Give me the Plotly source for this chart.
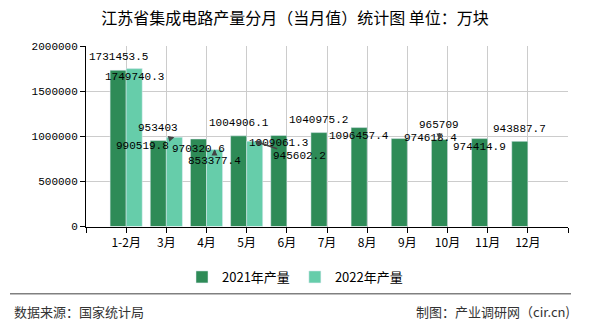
import plotly.graph_objects as go

# ---- data ----
months = ["1-2月", "3月", "4月", "5月", "6月", "7月", "8月", "9月", "10月", "11月", "12月"]
prod_2021 = [1731453.5, 953403, 970320.6, 1004906.1, 1009061.3, 1040975.2,
             1096457.4, 974618.4, 965709, 974414.9, 943887.7]
prod_2022 = [1749740.3, 990519.8, 853377.4, 945602.2, None, None,
             None, None, None, None, None]
series_names = ["2021年产量", "2022年产量"]
y_ticks = [0, 500000, 1000000, 1500000, 2000000]

# ---- style ----
C21 = "#2e8b57"
C22 = "#66cdaa"
NUM_FONT = "Liberation Mono"
CJK_FONT = "Noto Sans CJK SC"
BAR_OFFSET = 0.2  # half of group width (bargap 0.2)

# label placement tweaks (pixel offsets of label centre from bar top) : (dx, dy, arrow)
lab21 = [(0, -13, False), (0, -13, False), (0, 10, False), (0, -13, False),
         (0, 8, False), (0, -13, False), (0, 8, False), (31, -1, False),
         (0, -14, True), (0, 8, False), (0, -12, False)]
lab22 = [(0, 8, False), (-32, 9, True), (0, 11, True), (45, 15, True)]

x_idx = list(range(len(months)))

fig = go.Figure()
fig.add_trace(go.Bar(x=x_idx, y=prod_2021, name=series_names[0], marker_color=C21))
fig.add_trace(go.Bar(x=x_idx, y=prod_2022, name=series_names[1], marker_color=C22))

def fmt(v):
    return ("%.1f" % v) if v != int(v) else str(int(v))

annotations = []
for vals, offs, sign in ((prod_2021, lab21, -1), (prod_2022, lab22, 1)):
    for i, v in enumerate(vals):
        if v is None:
            continue
        dx, dy, arrow = offs[i]
        common = dict(x=i + sign * BAR_OFFSET, y=v, xref="x", yref="y",
                      text=fmt(v), font=dict(family=NUM_FONT, size=11, color="#000"))
        if arrow:
            annotations.append(dict(**common, showarrow=True, ax=dx, ay=dy,
                                    arrowcolor="#444", arrowwidth=1.5, arrowhead=2,
                                    arrowsize=0.8, standoff=0, startstandoff=0))
        else:
            annotations.append(dict(**common, showarrow=False, xshift=dx, yshift=-dy))

# plot-area geometry for footer positioning
L, R, T, B = 86, 22, 46, 101
W, H = 590, 330
pw, ph = W - L - R, H - T - B
def px(xp):
    return (xp - L) / pw
def py(yp):
    return (H - B - yp) / ph

annotations.append(dict(x=px(12), y=py(315), xref="paper", yref="paper", xanchor="left",
                        yanchor="middle", showarrow=False, text="数据来源：国家统计局",
                        font=dict(family=CJK_FONT, size=13, color="#333")))
annotations.append(dict(x=px(572), y=py(315), xref="paper", yref="paper", xanchor="right",
                        yanchor="middle", showarrow=False, text="制图：产业调研网（cir.cn)",
                        font=dict(family=CJK_FONT, size=13, color="#333")))

shapes = [dict(type="line", xref="paper", yref="paper", x0=px(10), x1=px(571),
               y0=py(297), y1=py(297), line=dict(color="#808080", width=1.5))]

tickvals = list(range(-1, len(months) + 1))
ticktext = [""] + months + [""]

fig.update_layout(
    width=W, height=H,
    margin=dict(l=L, r=R, t=T, b=B),
    paper_bgcolor="white", plot_bgcolor="white",
    barmode="group", bargap=0.2, bargroupgap=0,
    title=dict(text="江苏省集成电路产量分月（当月值）统计图 单位：万块",
               x=0.5, xanchor="center", xref="container",
               y=1 - 18 / H, yanchor="middle", yref="container",
               font=dict(family=CJK_FONT, size=16, color="#000")),
    xaxis=dict(range=[-1, len(months)], tickvals=tickvals, ticktext=ticktext,
               showgrid=True, gridcolor="#cccccc", gridwidth=1,
               showline=True, linecolor="#000", linewidth=1,
               ticks="outside", ticklen=5, tickcolor="#000",
               tickfont=dict(family=CJK_FONT, size=12, color="#000"), zeroline=False),
    yaxis=dict(range=[0, 2000000], tickvals=y_ticks, ticktext=[str(v) for v in y_ticks],
               showgrid=True, gridcolor="#cccccc", gridwidth=1,
               showline=True, linecolor="#000", linewidth=1,
               ticks="outside", ticklen=5, tickcolor="#000",
               tickfont=dict(family=NUM_FONT, size=11, color="#000"), zeroline=False),
    legend=dict(orientation="h", x=0.5, xanchor="center", xref="container",
                y=1 - 277 / H, yanchor="middle", yref="container",
                font=dict(family=CJK_FONT, size=13, color="#000"),
                itemclick=False),
    annotations=annotations,
    shapes=shapes,
    showlegend=True,
)

fig.write_html("out.html")
